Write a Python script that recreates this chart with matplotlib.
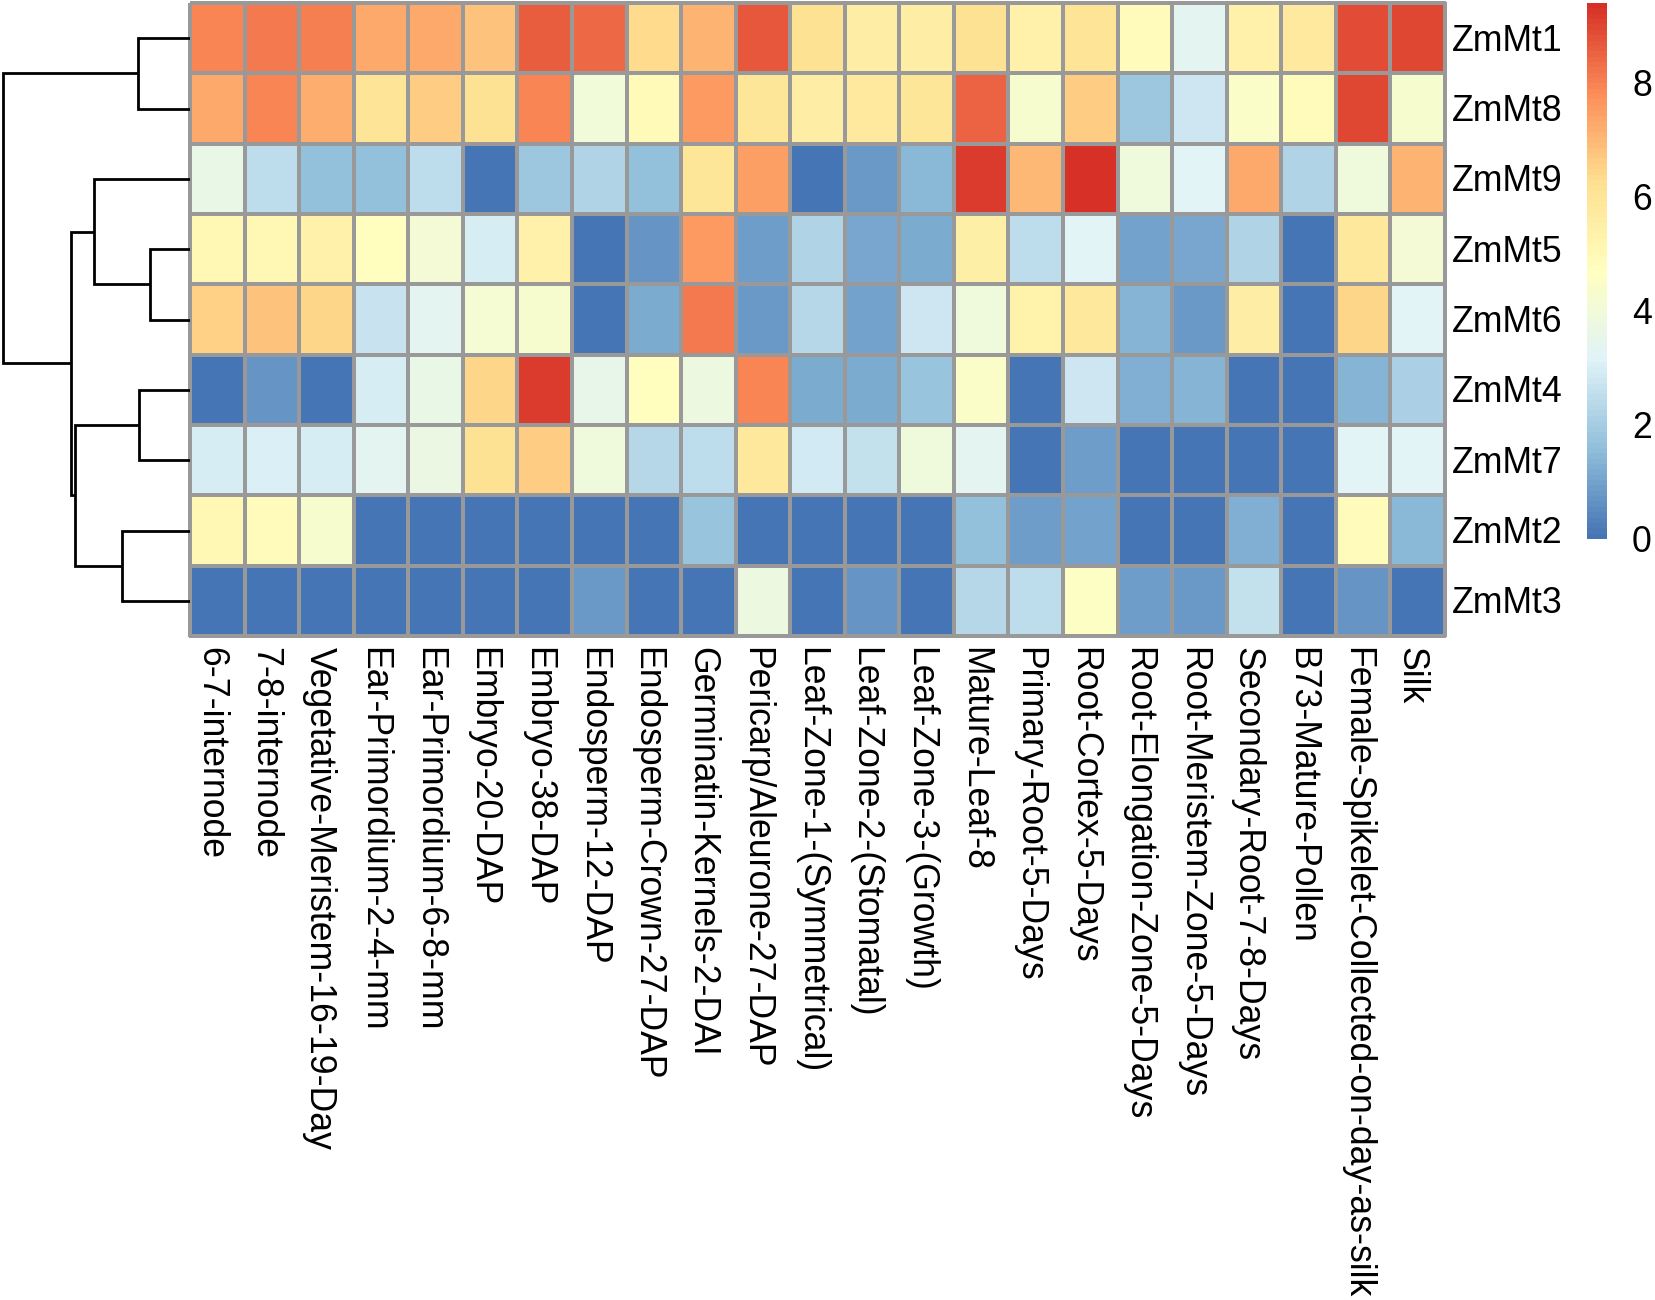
import numpy as np
import matplotlib
matplotlib.use("Agg")
import matplotlib.pyplot as plt
from matplotlib.colors import LinearSegmentedColormap, Normalize
from matplotlib.cm import ScalarMappable
from matplotlib.transforms import ScaledTranslation

plt.rcParams['font.family'] = ['Liberation Sans', 'DejaVu Sans']

genes = ["ZmMt1", "ZmMt8", "ZmMt9", "ZmMt5", "ZmMt6", "ZmMt4", "ZmMt7", "ZmMt2", "ZmMt3"]
tissues = ["6-7-internode", "7-8-internode", "Vegetative-Meristem-16-19-Day",
           "Ear-Primordium-2-4-mm", "Ear-Primordium-6-8-mm", "Embryo-20-DAP",
           "Embryo-38-DAP", "Endosperm-12-DAP", "Endosperm-Crown-27-DAP",
           "Germinatin-Kernels-2-DAI", "Pericarp/Aleurone-27-DAP",
           "Leaf-Zone-1-(Symmetrical)", "Leaf-Zone-2-(Stomatal)", "Leaf-Zone-3-(Growth)",
           "Mature-Leaf-8", "Primary-Root-5-Days", "Root-Cortex-5-Days",
           "Root-Elongation-Zone-5-Days", "Root-Meristem-Zone-5-Days",
           "Secondary-Root-7-8-Days", "B73-Mature-Pollen",
           "Female-Spikelet-Collected-on-day-as-silk", "Silk"]

zmmt1 = [7.9, 8.1, 8.0, 7.3, 7.3, 6.8, 8.6, 8.4, 6.3, 7.1, 8.7, 6.2, 5.6, 5.6, 6.2, 5.4, 6.1, 4.8, 3.3, 5.4, 5.8, 8.9, 9.0]
zmmt8 = [7.3, 7.9, 7.2, 6.1, 6.6, 6.2, 7.9, 4.0, 4.9, 7.6, 6.0, 5.6, 5.8, 6.0, 8.5, 4.3, 6.6, 1.8, 2.8, 4.5, 4.8, 9.0, 4.3]
zmmt9 = [3.6, 2.5, 1.6, 1.6, 2.5, 0.0, 1.8, 2.2, 1.6, 6.0, 7.5, 0.0, 0.8, 1.5, 9.2, 7.0, 9.4, 3.9, 3.2, 7.3, 2.2, 3.9, 7.1]
zmmt5 = [5.0, 5.0, 5.4, 4.7, 4.1, 3.0, 5.4, 0.0, 0.7, 7.6, 0.9, 2.2, 1.1, 1.2, 5.5, 2.5, 3.2, 1.0, 1.1, 2.2, 0.0, 5.9, 4.1]
zmmt6 = [6.5, 6.8, 6.4, 2.7, 3.3, 4.2, 4.3, 0.0, 1.2, 8.1, 0.8, 2.3, 1.0, 2.8, 3.9, 5.3, 5.9, 1.4, 0.8, 5.6, 0.0, 6.4, 3.2]
zmmt4 = [0.0, 0.7, 0.0, 3.0, 3.6, 6.4, 9.2, 3.5, 4.7, 3.8, 7.9, 1.2, 1.2, 1.7, 4.5, 0.0, 2.8, 1.3, 1.4, 0.0, 0.0, 1.4, 2.1]
zmmt7 = [3.0, 3.1, 3.0, 3.3, 3.7, 6.2, 6.6, 3.9, 2.3, 2.5, 5.9, 2.9, 2.6, 3.9, 3.3, 0.0, 0.9, 0.0, 0.0, 0.0, 0.0, 3.2, 3.2]
zmmt2 = [5.0, 4.8, 4.3, 0.0, 0.0, 0.0, 0.0, 0.0, 0.0, 1.7, 0.0, 0.0, 0.0, 0.0, 1.6, 0.9, 1.0, 0.0, 0.0, 1.3, 0.0, 4.8, 1.5]
zmmt3 = [0.0, 0.0, 0.0, 0.0, 0.0, 0.0, 0.0, 0.8, 0.0, 0.0, 3.8, 0.0, 0.7, 0.0, 2.3, 2.5, 4.6, 0.9, 0.8, 2.6, 0.0, 0.7, 0.0]

# row dendrogram (leaf indices follow display order), (left, right, height)
merges = [(3, 4, 40), (5, 6, 51), (0, 1, 52), (7, 8, 68),
          (2, 9, 96), (10, 12, 115), (13, 14, 119), (11, 15, 186)]

cbar_ticks = [0, 2, 4, 6, 8]

data = np.array([zmmt1, zmmt8, zmmt9, zmmt5, zmmt6, zmmt4, zmmt7, zmmt2, zmmt3])
nrow, ncol = data.shape

cmap = LinearSegmentedColormap.from_list(
    "rdylbu_r", ["#4575B4", "#91BFDB", "#E0F3F8", "#FFFFBF", "#FEE090", "#FC8D59", "#D73027"], N=100)
norm = Normalize(vmin=data.min(), vmax=data.max())

W, H = 1656, 1300
fig = plt.figure(figsize=(W / 100, H / 100), dpi=100)
fig.patch.set_facecolor("white")


def px_axes(x0, y0, x1, y1):
    return fig.add_axes([x0 / W, 1 - y1 / H, (x1 - x0) / W, (y1 - y0) / H])


FS = 25.7
# heatmap
ax = px_axes(190, 3, 1445, 636)
mesh = ax.pcolormesh(np.arange(ncol + 1), np.arange(nrow + 1), data, cmap=cmap, norm=norm,
                     edgecolors="#999999", linewidth=1.6)
mesh.set_clip_on(False)
ax.set_xlim(0, ncol)
ax.set_ylim(nrow, 0)
for s in ax.spines.values():
    s.set_visible(False)
ax.set_xticks(np.arange(ncol) + 0.5)
ax.set_xticklabels(tissues, rotation=270, ha="center", va="top", fontsize=FS)
ax.yaxis.tick_right()
ax.set_yticks(np.arange(nrow) + 0.5)
ax.set_yticklabels(genes, fontsize=FS, va="center")
ax.tick_params(axis="both", length=0)
ax.tick_params(axis="x", pad=8)
ax.tick_params(axis="y", pad=5)
for lab in ax.get_xticklabels():
    lab.set_transform(lab.get_transform() + ScaledTranslation(-0.07, 0, fig.dpi_scale_trans))
for lab in ax.get_yticklabels():
    lab.set_transform(lab.get_transform() + ScaledTranslation(0, -0.03, fig.dpi_scale_trans))

# dendrogram
dax = px_axes(0, 3, 190, 636)
pos = {i: (0.0, i + 0.5) for i in range(nrow)}
nid = nrow
for a, b, h in merges:
    ha_, ya = pos[a]
    hb, yb = pos[b]
    dax.plot([ha_, h, h, hb], [ya, ya, yb, yb], color="black", lw=2.0,
             solid_capstyle="butt", solid_joinstyle="miter")
    pos[nid] = (h, (ya + yb) / 2)
    nid += 1
maxh = max(m[2] for m in merges)
dax.set_xlim(maxh * 1.018, 0)
dax.set_ylim(nrow, 0)
dax.axis("off")

# colorbar
cax = px_axes(1587, 3, 1607, 539)
cb = fig.colorbar(ScalarMappable(norm=norm, cmap=cmap), cax=cax)
cb.outline.set_visible(False)
cb.set_ticks(cbar_ticks)
cax.tick_params(length=0, labelsize=FS, pad=18)

fig.savefig("out.png", dpi=100, facecolor="white")
